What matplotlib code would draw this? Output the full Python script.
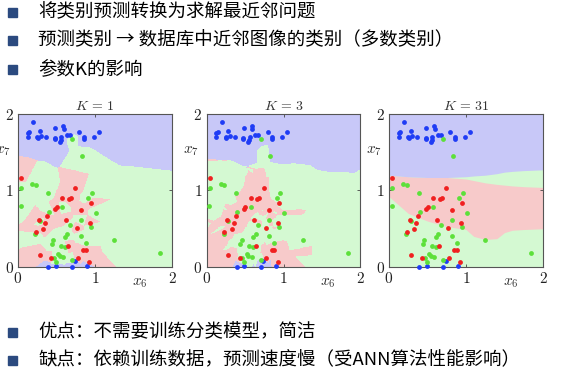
import numpy as np
import matplotlib
matplotlib.use('Agg')
import matplotlib.pyplot as plt
from matplotlib.colors import ListedColormap
from matplotlib.patches import Rectangle

plt.rcParams['mathtext.fontset'] = 'cm'

# training points (x6, x7)
blue_x = [0.196, 0.143, 0.126, 0.126, 0.283, 0.252, 0.257, 0.304, 0.37, 0.487, 0.478, 0.478,
          0.587, 0.591, 0.561, 0.552, 0.543, 0.630, 0.674, 0.796, 0.857, 0.857, 0.987, 1.048,
          0.391, 0.491, 0.704, 0.739, 0.90]
blue_y = [1.895, 1.764, 1.75, 1.70, 1.777, 1.70, 1.685, 1.707, 1.70, 1.812, 1.685, 1.667,
          1.838, 1.803, 1.694, 1.663, 1.628, 1.72, 1.72, 1.768, 1.694, 1.672, 1.70, 1.759,
          0.004, 0.018, 0.004, 0.079, 0.013]
green_x = [0.704, 0.83, 0.039, 0.187, 0.23, 0.035, 0.387, 0.574, 0.40, 0.957, 0.913, 1.009,
           0.283, 0.670, 0.817, 0.943, 0.226, 0.461, 0.439, 0.604, 0.639, 0.817, 0.883, 0.552,
           0.609, 1.252, 1.839, 0.522, 0.543, 0.587, 0.465, 0.704, 0.491]
green_y = [1.676, 1.449, 1.037, 1.085, 1.077, 0.792, 0.972, 0.788, 0.722, 0.963, 0.897, 0.709,
           0.60, 0.551, 0.613, 0.525, 0.429, 0.359, 0.298, 0.39, 0.433, 0.407, 0.315, 0.271,
           0.263, 0.35, 0.184, 0.166, 0.144, 0.127, 0.118, 0.092, 0.061]
red_x = [0.039, 0.743, 0.574, 0.661, 0.683, 0.50, 0.487, 0.817, 0.948, 0.383, 0.270, 0.357,
         0.617, 0.770, 0.930, 0.330, 0.230, 0.643, 0.848, 0.883, 0.283, 0.430, 0.778, 0.926]
red_y = [1.168, 1.037, 0.902, 0.884, 0.906, 0.779, 0.761, 0.74, 0.840, 0.670, 0.617, 0.569,
         0.613, 0.508, 0.578, 0.503, 0.464, 0.276, 0.228, 0.219, 0.153, 0.118, 0.114, 0.066]

k_values = [1, 3, 31]

# K=31 region borders (the full training set is not shown)
k31_x = [0, 0.25, 0.5, 0.75, 1.0, 1.1, 1.25, 1.4, 1.5, 1.6, 1.75, 2.0]
k31_blue = [1.20, 1.18, 1.17, 1.17, 1.18, 1.19, 1.20, 1.22, 1.24, 1.25, 1.26, 1.27]
k31_red_hi = [1.20, 1.18, 1.17, 1.17, 1.15, 1.13, 1.10, 1.08, 1.07, 1.06, 1.05, 1.04]
k31_red_lo = [0.92, 0.70, 0.60, 0.53, 0.49, 0.40, 0.36, 0.37, 0.45, 0.48, 0.49, 0.50]

top_lines = ['将类别预测转换为求解最近邻问题',
             '预测类别 → 数据库中近邻图像的类别（多数类别）',
             '参数K的影响']
bottom_lines = ['优点：不需要训练分类模型，简洁',
                '缺点：依赖训练数据，预测速度慢（受ANN算法性能影响）']

cjk = ['Noto Sans CJK SC', 'DejaVu Sans']
W, H = 567, 381

pts = np.column_stack([blue_x + green_x + red_x, blue_y + green_y + red_y])
labels = np.array([0] * len(blue_x) + [1] * len(green_x) + [2] * len(red_x))

n = 300
g = (np.arange(n) + 0.5) / n * 2
gx, gy = np.meshgrid(g, g)
grid = np.column_stack([gx.ravel(), gy.ravel()])
d = ((grid[:, None, :] - pts[None, :, :]) ** 2).sum(-1)
order = np.argsort(d, axis=1)


def knn_classify(k):
    nb = labels[order[:, :k]]
    counts = np.stack([(nb == c).sum(1) for c in range(3)], axis=1)
    best = counts.max(1, keepdims=True)
    tied = counts == best
    # break ties with the closest neighbour among tied classes
    res = np.empty(len(grid), dtype=int)
    for i in range(len(grid)):
        if tied[i].sum() == 1:
            res[i] = np.argmax(counts[i])
        else:
            for c in nb[i]:
                if tied[i, c]:
                    res[i] = c
                    break
    return res.reshape(n, n)


bg_colors = ['#c8c8f8', '#d4f9d2', '#f7caca']
bg_cmap = ListedColormap(bg_colors)

fig = plt.figure(figsize=(W / 100, H / 100), dpi=100)

lefts = [18, 206.5, 389]
for left, k in zip(lefts, k_values):
    ax = fig.add_axes([left / W, (H - 267) / H, 154 / W, 153 / H])
    if k == 31:
        ax.set_facecolor(bg_colors[1])
        ax.fill_between(k31_x, k31_red_lo, k31_red_hi, color=bg_colors[2], lw=0)
        ax.fill_between(k31_x, k31_blue, 2, color=bg_colors[0], lw=0)
    else:
        ax.imshow(knn_classify(k), cmap=bg_cmap, vmin=0, vmax=2, origin='lower',
                  extent=[0, 2, 0, 2], interpolation='nearest', aspect='auto')
    ax.scatter(blue_x, blue_y, s=12, c='#1f3cf5', lw=0, zorder=3, clip_on=False)
    ax.scatter(green_x, green_y, s=12, c='#5de03a', lw=0, zorder=3, clip_on=False)
    ax.scatter(red_x, red_y, s=12, c='#f02020', lw=0, zorder=3, clip_on=False)
    ax.set_xlim(0, 2)
    ax.set_ylim(0, 2)
    ax.set_xticks([0, 1, 2])
    ax.set_yticks([0, 1, 2])
    ax.set_xticklabels(['$0$', '$1$', '$2$'], fontsize=11)
    ax.set_yticklabels(['$0$', '$1$', '$2$'], fontsize=11)
    ax.tick_params(direction='in', length=2, width=0.6, pad=3, color='#444444',
                   labelcolor='#222222', top=True, right=True)
    for s in ax.spines.values():
        s.set_color('#555555')
        s.set_linewidth(0.8)
    ax.set_title(r'$K\,=\,%d$' % k, fontsize=10, pad=3, color='#333333')
    ax.text(1.58, -0.2, r'$x_6$', fontsize=11, ha='center', va='center', color='#333333')
    ax.text(-0.2, 1.52, r'$x_7$', fontsize=11, ha='center', va='center', color='#333333')

# bullet text
for text, yp in zip(top_lines + bottom_lines, [12, 40, 69, 332, 360]):
    fig.patches.append(Rectangle((8 / W, 1 - (yp + 4.5) / H), 9 / W, 9 / H,
                                 transform=fig.transFigure, color='#2b4a7f'))
    fig.text(38 / W, 1 - yp / H, text, fontsize=13.3, family=cjk, va='center', ha='left',
             color='#000000', weight='medium')

fig.savefig('out.png', dpi=100)
